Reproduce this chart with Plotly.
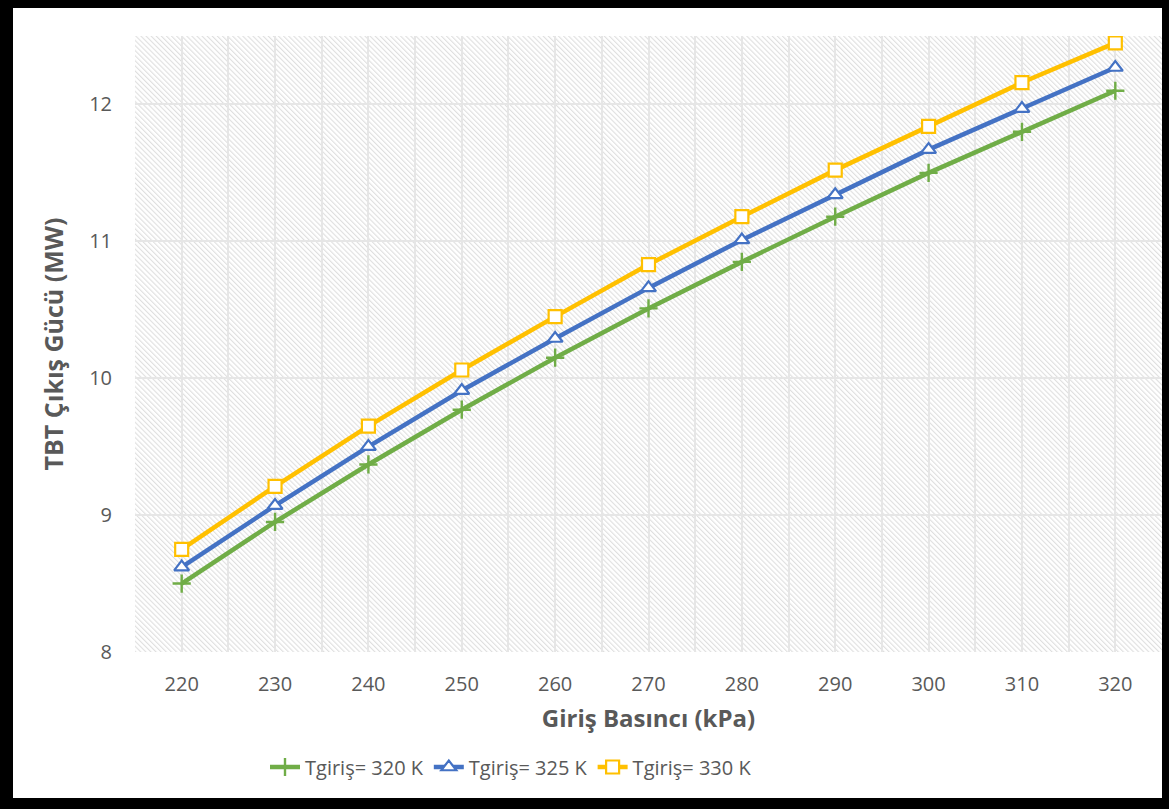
import base64
import plotly.graph_objects as go

# Inlet pressure (kPa) and turbine output (MW) for three inlet temperatures
pressure_kpa = [220, 230, 240, 250, 260, 270, 280, 290, 300, 310, 320]
power_320k = [8.50, 8.95, 9.37, 9.77, 10.15, 10.51, 10.85, 11.18, 11.50, 11.80, 12.10]
power_325k = [8.62, 9.07, 9.50, 9.91, 10.29, 10.66, 11.01, 11.34, 11.67, 11.97, 12.27]
power_330k = [8.75, 9.21, 9.65, 10.06, 10.45, 10.83, 11.18, 11.52, 11.84, 12.16, 12.45]

series_names = ["Tgiriş= 320 K", "Tgiriş= 325 K", "Tgiriş= 330 K"]
x_ticks = [220, 230, 240, 250, 260, 270, 280, 290, 300, 310, 320]
y_ticks = [8, 9, 10, 11, 12]

W, H = 1169, 809
ML, MR, MT, MB = 135, 7, 36, 157
PW, PH = W - ML - MR, H - MT - MB

TEXT = "#595959"
FONT = "Open Sans"

fig = go.Figure()

styles = [
    dict(color="#70AD47", symbol="cross-thin", size=13, fill="#70AD47", lw=2.4),
    dict(color="#4472C4", symbol="triangle-up", size=13, fill="white", lw=2.2),
    dict(color="#FFC000", symbol="square", size=13, fill="white", lw=2.2),
]
for name, ys, st in zip(series_names, [power_320k, power_325k, power_330k], styles):
    fig.add_trace(go.Scatter(
        x=pressure_kpa, y=ys, name=name, mode="lines+markers",
        line=dict(color=st["color"], width=4.5),
        marker=dict(symbol=st["symbol"], size=st["size"], color=st["fill"],
                    line=dict(color=st["color"], width=st["lw"])),
    ))

# diagonal hatch behind the plotting area
svg = (
    f'<svg xmlns="http://www.w3.org/2000/svg" width="{PW}" height="{PH}" '
    f'viewBox="0 0 {PW} {PH}" preserveAspectRatio="none">'
    '<defs><pattern id="h" width="3.6" height="3.6" patternUnits="userSpaceOnUse" '
    'patternTransform="rotate(-45)">'
    '<rect width="3.6" height="3.6" fill="#ffffff"/>'
    '<line x1="0.6" y1="0" x2="0.6" y2="3.6" stroke="#dcdcdc" stroke-width="1"/>'
    '</pattern></defs>'
    f'<rect width="{PW}" height="{PH}" fill="url(#h)"/></svg>'
)
src = "data:image/svg+xml;base64," + base64.b64encode(svg.encode()).decode()
fig.add_layout_image(dict(source=src, xref="paper", yref="paper", x=0, y=1,
                          sizex=1, sizey=1, sizing="stretch", layer="below",
                          xanchor="left", yanchor="top"))

# black frame around the figure (pixel edges converted to paper fractions)
def px_x(p):
    return (p - ML) / PW

def px_y(p):
    return (H - MB - p) / PH

frame = [(0, 0, 13, H), (0, 0, W, 8), (1162, 0, W, H), (0, 798, W, H)]
for x0, y0, x1, y1 in frame:
    fig.add_shape(type="rect", xref="paper", yref="paper",
                  x0=px_x(x0), x1=px_x(x1), y0=px_y(y1), y1=px_y(y0),
                  fillcolor="black", line=dict(width=0), layer="above")

grid = "#e6e6e6"
fig.update_layout(
    width=W, height=H,
    margin=dict(l=ML, r=MR, t=MT, b=MB, autoexpand=False),
    paper_bgcolor="white", plot_bgcolor="rgba(0,0,0,0)",
    font=dict(family=FONT, color=TEXT, size=20),
    xaxis=dict(
        range=[215, 325], tickvals=x_ticks, showgrid=True, gridcolor=grid, gridwidth=1.5,
        minor=dict(dtick=5, tick0=215, showgrid=True, gridcolor=grid, gridwidth=1.5),
        zeroline=False, ticks="", ticklabelstandoff=18, automargin=False,
        tickfont=dict(family=FONT, size=20, color=TEXT),
        title=dict(text="<b>Giriş Basıncı (kPa)</b>", standoff=14,
                   font=dict(family=FONT, size=24, color=TEXT)),
    ),
    yaxis=dict(
        range=[8, 12.5], tickvals=y_ticks, showgrid=True, gridcolor=grid, gridwidth=1.5,
        zeroline=False, ticks="", ticklabelstandoff=22, automargin=False,
        tickfont=dict(family=FONT, size=20, color=TEXT),
        title=dict(text="<b>TBT Çıkış Gücü (MW)</b>", standoff=18,
                   font=dict(family=FONT, size=25, color=TEXT)),
    ),
    legend=dict(orientation="h", x=511 / W, xanchor="center", xref="container",
                y=(H - 767) / H, yanchor="middle", yref="container",
                font=dict(family=FONT, size=20, color=TEXT),
                itemwidth=30, tracegroupgap=0, bgcolor="rgba(0,0,0,0)"),
    showlegend=True,
)

fig.write_html("out.html")
